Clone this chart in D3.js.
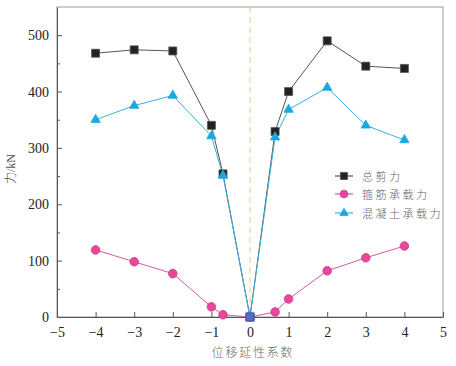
<!DOCTYPE html>
<html><head><meta charset="utf-8">
<script src="https://cdn.jsdelivr.net/npm/d3@7"></script>
<style>body{margin:0;background:#fff}svg{display:block}</style>
</head><body>
<script>
const xs = [-4, -3, -2, -1, -0.7, 0, 0.65, 1, 2, 3, 4];
const totalShear = [468, 474, 472, 340, 254, 0, 329, 400, 490, 445, 441];
const stirrup = [119, 98, 77, 18, 4, 0, 9, 32, 82, 105, 126];
const concrete = [350, 375, 393, 321, 251, 0, 319, 368, 407, 340, 314];
const xTicks = [-5, -4, -3, -2, -1, 0, 1, 2, 3, 4, 5];
const yTicks = [0, 100, 200, 300, 400, 500];
const yMinor = [50, 150, 250, 350, 450];
const legendNames = ["总剪力", "箍筋承载力", "混凝土承载力"];

const W = 456, H = 366;
const m = {l: 57, r: 443, t: 7, b: 317};
const svg = d3.select("body").append("svg").attr("width", W).attr("height", H);
const x = d3.scaleLinear().domain([-5, 5]).range([m.l, m.r]);
const y = d3.scaleLinear().domain([0, 550]).range([m.b, m.t]);

svg.append("rect").attr("x", m.l).attr("y", m.t).attr("width", m.r - m.l).attr("height", m.b - m.t)
  .attr("fill", "none").attr("stroke", "#999").attr("stroke-width", 1);

svg.append("line").attr("x1", x(0)).attr("x2", x(0)).attr("y1", m.t).attr("y2", m.b)
  .attr("stroke", "#f2cda6").attr("stroke-width", 1.2).attr("stroke-dasharray", "6,4");

const tickFont = "'Liberation Serif', 'DejaVu Serif', serif";
const xAxis = svg.append("g").attr("transform", `translate(0,${m.b})`)
  .call(d3.axisBottom(x).tickValues(xTicks).tickSizeInner(-5).tickSizeOuter(0).tickPadding(10)
    .tickFormat(d => d < 0 ? "\u2212" + Math.abs(d) : d));
const yAxis = svg.append("g").attr("transform", `translate(${m.l},0)`)
  .call(d3.axisLeft(y).tickValues(yTicks).tickSizeInner(-5).tickSizeOuter(0).tickPadding(8));
svg.append("g").attr("transform", `translate(${m.l},0)`)
  .call(d3.axisLeft(y).tickValues(yMinor).tickSize(-3).tickFormat(""))
  .call(g => g.select(".domain").remove());
[xAxis, yAxis].forEach(g => {
  g.select(".domain").attr("stroke", "#555");
  g.selectAll("text").attr("font-family", tickFont).attr("font-size", 14).attr("fill", "#222");
});
svg.selectAll("g .tick line").attr("stroke", "#555");

const pts = arr => xs.map((v, i) => [x(v), y(arr[i])]);
const line = d3.line();

const series = [
  {vals: totalShear, line: "#555", fill: "#222", stroke: "#555", sym: d3.symbolSquare, size: 64},
  {vals: stirrup, line: "#d9589f", fill: "#e8479a", stroke: "#c33a85", sym: d3.symbolCircle, size: 58},
  {vals: concrete, line: "#3bb0dc", fill: "#19a8e2", stroke: "#19a8e2", sym: d3.symbolTriangle, size: 38}
];

series.forEach(s => {
  svg.append("path").attr("d", line(pts(s.vals))).attr("fill", "none")
    .attr("stroke", s.line).attr("stroke-width", 1);
});
series.forEach(s => {
  svg.append("g").selectAll("path").data(pts(s.vals)).join("path")
    .attr("transform", d => `translate(${d[0]},${d[1]})`)
    .attr("d", d3.symbol().type(s.sym).size(s.size))
    .attr("fill", s.fill).attr("stroke", s.stroke).attr("stroke-width", 0.8);
});
svg.append("rect").attr("x", x(0) - 4).attr("y", y(0) - 4).attr("width", 8).attr("height", 8)
  .attr("fill", "#4f6fc8").attr("stroke", "#3858a8");

const ly = [176, 194, 213];
series.forEach((s, i) => {
  const g = svg.append("g").attr("transform", `translate(0,${ly[i]})`);
  g.append("line").attr("x1", 335).attr("x2", 353).attr("stroke", s.line).attr("stroke-width", 1.2);
  g.append("path").attr("transform", "translate(344,0)")
    .attr("d", d3.symbol().type(s.sym).size(s.size * 0.8)).attr("fill", s.fill).attr("stroke", s.stroke).attr("stroke-width", 0.8);
  g.append("text").attr("x", 362).attr("y", 4.5).text(legendNames[i])
    .attr("font-family", "'Noto Sans CJK SC', sans-serif").attr("font-size", 11).attr("fill", "#666")
    .attr("font-weight", 300).attr("letter-spacing", 2.5);
});

svg.append("text").attr("x", 253).attr("y", 357).attr("text-anchor", "middle")
  .attr("font-family", "'Noto Sans CJK SC', sans-serif").attr("font-size", 12).attr("fill", "#666")
  .attr("font-weight", 300).attr("letter-spacing", 1.8).text("位移延性系数");
const yt = svg.append("text").attr("transform", "translate(15,169) rotate(-90)").attr("text-anchor", "middle")
  .attr("font-size", 12).attr("fill", "#555");
yt.append("tspan").attr("font-family", "'Noto Sans CJK SC', sans-serif").attr("font-weight", 300).text("力");
yt.append("tspan").attr("font-family", "'Liberation Serif', serif").text("/kN");
</script>
</body></html>
